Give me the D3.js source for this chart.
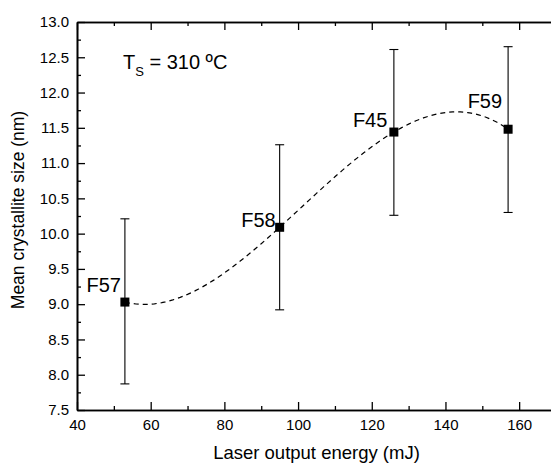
<!DOCTYPE html>
<html>
<head>
<meta charset="utf-8">
<script src="https://cdn.jsdelivr.net/npm/d3@7"></script>
<style>
  body { margin: 0; background: #fff; }
  text { font-family: Arial, 'Liberation Sans', sans-serif; fill: #000; }
</style>
</head>
<body>
<div id="wrapper"></div>
<script>
const samples = ['F57', 'F58', 'F45', 'F59']
const energy = [53, 95, 126, 157]
const crystalliteSize = [9.03, 10.09, 11.44, 11.48]
const errorLow = [7.87, 8.92, 10.26, 10.30]
const errorHigh = [10.21, 11.26, 12.61, 12.65]
const xTicks = [40, 60, 80, 100, 120, 140, 160]
const yTicks = [7.5, 8.0, 8.5, 9.0, 9.5, 10.0, 10.5, 11.0, 11.5, 12.0, 12.5, 13.0]

// least squares polynomial fit of the points (the dashed trend curve)
function polyFit(xs, ys, order) {
  const n = order + 1
  const A = d3.range(n).map(() => d3.range(n + 1).map(() => 0))
  xs.forEach((x, k) => {
    for (let i = 0; i < n; i++) {
      for (let j = 0; j < n; j++) A[i][j] += Math.pow(x, i + j)
      A[i][n] += ys[k] * Math.pow(x, i)
    }
  })
  for (let i = 0; i < n; i++) {
    let p = i
    for (let r = i + 1; r < n; r++) if (Math.abs(A[r][i]) > Math.abs(A[p][i])) p = r
    ;[A[i], A[p]] = [A[p], A[i]]
    for (let r = 0; r < n; r++) {
      if (r === i) continue
      const f = A[r][i] / A[i][i]
      for (let c = i; c <= n; c++) A[r][c] -= f * A[i][c]
    }
  }
  const coef = A.map((row, i) => row[n] / row[i])
  return (x) => coef.reduce((s, c, i) => s + c * Math.pow(x, i), 0)
}

function drawChart() {
  const dataset = samples.map((s, i) => ({
    name: s, x: energy[i], y: crystalliteSize[i], lo: errorLow[i], hi: errorHigh[i],
  }))

  const dimensions = {
    width: 551,
    height: 464,
    margin: { top: 22, right: -5, bottom: 54, left: 77 },
  }
  dimensions.boundedWidth = dimensions.width - dimensions.margin.left - dimensions.margin.right
  dimensions.boundedHeight = dimensions.height - dimensions.margin.top - dimensions.margin.bottom

  const wrapper = d3.select('#wrapper')
    .append('svg')
    .attr('width', dimensions.width)
    .attr('height', dimensions.height)

  const bounds = wrapper.append('g')
    .attr('transform', `translate(${dimensions.margin.left},${dimensions.margin.top})`)

  const xScale = d3.scaleLinear().domain([40, 170]).range([0, dimensions.boundedWidth])
  const yScale = d3.scaleLinear().domain([7.5, 13]).range([dimensions.boundedHeight, 0])

  // axes: major ticks point inward, minor ticks in between
  const xMinor = d3.range(50, 170, 20)
  const yMinor = d3.range(7.75, 13, 0.5)

  const styleAxis = (g) => {
    g.select('.domain').attr('stroke', '#000').attr('stroke-width', 1.6)
    g.selectAll('.tick line').attr('stroke', '#000').attr('stroke-width', 1.3)
    g.selectAll('.tick text').style('font-size', '15px').attr('fill', '#000')
  }

  bounds.append('g')
    .attr('transform', `translate(0,${dimensions.boundedHeight})`)
    .call(d3.axisBottom(xScale).tickValues(xTicks).tickSizeInner(-8).tickSizeOuter(0).tickPadding(9))
    .call(styleAxis)
  bounds.append('g')
    .attr('transform', `translate(0,${dimensions.boundedHeight})`)
    .call(d3.axisBottom(xScale).tickValues(xMinor).tickSizeInner(-4).tickSizeOuter(0).tickFormat(''))
    .call(styleAxis)

  bounds.append('g')
    .call(d3.axisTop(xScale).tickValues(xTicks).tickSizeInner(-8).tickSizeOuter(0).tickFormat(''))
    .call(styleAxis)
  bounds.append('g')
    .call(d3.axisTop(xScale).tickValues(xMinor).tickSizeInner(-4).tickSizeOuter(0).tickFormat(''))
    .call(styleAxis)

  bounds.append('g')
    .call(d3.axisLeft(yScale).tickValues(yTicks).tickFormat(d3.format('.1f'))
      .tickSizeInner(-8).tickSizeOuter(0).tickPadding(8))
    .call(styleAxis)
  bounds.append('g')
    .call(d3.axisLeft(yScale).tickValues(yMinor).tickSizeInner(-4).tickSizeOuter(0).tickFormat(''))
    .call(styleAxis)

  // fit curve, evaluated between the first and last energy
  const fit = polyFit(energy, crystalliteSize, 3)
  const fitX = d3.scaleLinear().domain(d3.extent(energy)).ticks(120)
  bounds.append('path')
    .attr('d', d3.line().x((d) => xScale(d)).y((d) => yScale(fit(d)))(fitX))
    .attr('fill', 'none')
    .attr('stroke', '#000')
    .attr('stroke-width', 1.2)
    .attr('stroke-dasharray', '5,4')

  // error bars
  const bars = bounds.append('g').selectAll('g').data(dataset).join('g')
    .attr('stroke', '#000').attr('stroke-width', 1.1)
  bars.append('line')
    .attr('x1', (d) => xScale(d.x)).attr('x2', (d) => xScale(d.x))
    .attr('y1', (d) => yScale(d.lo)).attr('y2', (d) => yScale(d.hi))
  bars.append('line')
    .attr('x1', (d) => xScale(d.x) - 4.5).attr('x2', (d) => xScale(d.x) + 4.5)
    .attr('y1', (d) => yScale(d.lo)).attr('y2', (d) => yScale(d.lo))
  bars.append('line')
    .attr('x1', (d) => xScale(d.x) - 4.5).attr('x2', (d) => xScale(d.x) + 4.5)
    .attr('y1', (d) => yScale(d.hi)).attr('y2', (d) => yScale(d.hi))

  // markers
  bounds.append('g').selectAll('rect').data(dataset).join('rect')
    .attr('x', (d) => xScale(d.x) - 4.5)
    .attr('y', (d) => yScale(d.y) - 4.5)
    .attr('width', 9)
    .attr('height', 9)
    .attr('fill', '#000')

  // sample labels, placed by hand next to each marker
  const labelShift = {
    F57: [-4, -10],
    F58: [-4, 0],
    F45: [-6.5, -5],
    F59: [-6, -21],
  }
  bounds.append('g').selectAll('text').data(dataset).join('text')
    .attr('x', (d) => xScale(d.x) + labelShift[d.name][0])
    .attr('y', (d) => yScale(d.y) + labelShift[d.name][1])
    .attr('text-anchor', 'end')
    .style('font-size', '20px')
    .text((d) => d.name)

  // substrate temperature note
  const note = bounds.append('text')
    .attr('x', 46)
    .attr('y', 46.5)
    .style('font-size', '20px')
  note.append('tspan').text('T')
  note.append('tspan').attr('dy', 7.5).style('font-size', '13px').text('S')
  note.append('tspan').attr('dy', -7.5).text(' = 310 ºC')

  // axis titles
  wrapper.append('text')
    .attr('x', dimensions.margin.left + dimensions.boundedWidth / 2)
    .attr('y', 459)
    .attr('text-anchor', 'middle')
    .style('font-size', '18.5px')
    .text('Laser output energy (mJ)')

  wrapper.append('text')
    .attr('transform', 'translate(24,210) rotate(-90)')
    .attr('text-anchor', 'middle')
    .style('font-size', '17.5px')
    .text('Mean crystallite size (nm)')
}
drawChart()
</script>
</body>
</html>
